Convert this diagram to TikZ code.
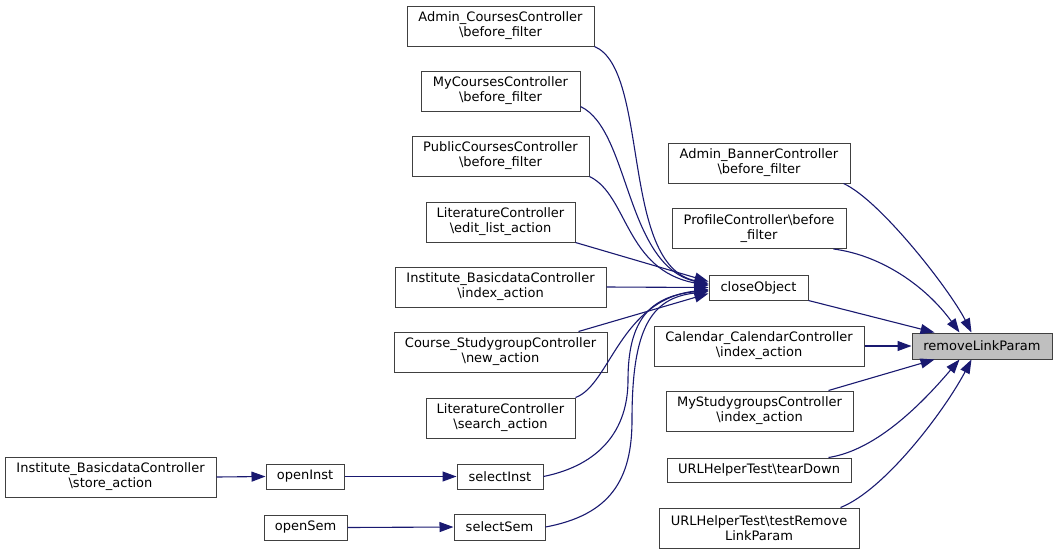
\documentclass[tikz,border=0pt]{standalone}
\usepackage{fontspec}
\setmainfont{DejaVu Sans}
\usetikzlibrary{arrows.meta}
\definecolor{edgeblue}{HTML}{191970}
\definecolor{hlgray}{HTML}{BFBFBF}

\begin{document}
\begin{tikzpicture}[x=1pt,y=-1pt,
    func/.style={draw=black!75,line width=1pt,fill=white,align=center,inner sep=0pt,
      font=\fontsize{13}{15}\selectfont,minimum height=40pt},
    one/.style={func,minimum height=25pt},
    call/.style={edgeblue,line width=1.1pt,-{Triangle[length=14pt,width=10pt]}}]
    \useasboundingbox (0,0) rectangle (1057,555);

    % callers of the callers
    \node[func,minimum width=211pt] (storeAct) at (110.5,477) {Institute\_BasicdataController\\\textbackslash store\_action};
    \node[one,minimum width=78pt] (openInst) at (305,476.5) {openInst};
    \node[one,minimum width=83pt] (openSem) at (305.5,527.5) {openSem};

    % callers of closeObject
    \node[func,minimum width=187pt] (adminCourses) at (500.5,26) {Admin\_CoursesController\\\textbackslash before\_filter};
    \node[func,minimum width=159pt] (myCourses) at (500.5,91) {MyCoursesController\\\textbackslash before\_filter};
    \node[func,minimum width=177pt] (publicCourses) at (500.5,156) {PublicCoursesController\\\textbackslash before\_filter};
    \node[func,minimum width=149pt] (litEdit) at (500.5,222) {LiteratureController\\\textbackslash edit\_list\_action};
    \node[func,minimum width=211pt] (instIndex) at (500.5,287) {Institute\_BasicdataController\\\textbackslash index\_action};
    \node[func,minimum width=213pt] (courseStudy) at (500.5,352) {Course\_StudygroupController\\\textbackslash new\_action};
    \node[func,minimum width=149pt] (litSearch) at (500.5,418) {LiteratureController\\\textbackslash search\_action};
    \node[one,minimum width=86pt] (selectInst) at (500,476.5) {selectInst};
    \node[one,minimum width=91pt,minimum height=26pt] (selectSem) at (499.5,527) {selectSem};

    % callers of removeLinkParam
    \node[one,minimum width=99pt] (closeObject) at (758.5,287.5) {closeObject};
    \node[func,minimum width=182pt] (adminBanner) at (759,163) {Admin\_BannerController\\\textbackslash before\_filter};
    \node[func,minimum width=174pt] (profile) at (759,228.5) {ProfileController\textbackslash before\\\_filter};
    \node[func,minimum width=210pt] (calendar) at (759,346) {Calendar\_CalendarController\\\textbackslash index\_action};
    \node[func,minimum width=187pt] (myStudy) at (759.5,411) {MyStudygroupsController\\\textbackslash index\_action};
    \node[one,minimum width=184pt,minimum height=24pt] (tearDown) at (759,470) {URLHelperTest\textbackslash tearDown};
    \node[func,minimum width=200pt] (testRemove) at (759,528) {URLHelperTest\textbackslash testRemove\\LinkParam};

    \node[one,fill=hlgray,minimum width=140pt,minimum height=26pt] (removeLink) at (982,346) {removeLinkParam};

    % calls
    \draw[call] (storeAct.east) -- (openInst.west);
    \draw[call] (openInst.east) -- (selectInst.west);
    \draw[call] (openSem.east) -- (selectSem.west);

    \draw[call] (adminCourses.south east) .. controls (650,70) and (620,265) .. ([yshift=4pt]closeObject.west);
    \draw[call] ([yshift=5pt]myCourses.south east) .. controls (630,130) and (625,265) .. ([yshift=3pt]closeObject.west);
    \draw[call] (publicCourses.south east) .. controls (628,195) and (625,270) .. ([yshift=2pt]closeObject.west);
    \draw[call] (litEdit.south east) -- ([yshift=6pt]closeObject.west);
    \draw[call] (instIndex.east) -- (closeObject.west);
    \draw[call] ([xshift=-29pt]courseStudy.north east) -- ([yshift=-6pt]closeObject.west);
    \draw[call] (litSearch.north east) .. controls (610,385) and (620,300) .. ([yshift=-2pt]closeObject.west);
    \draw[call] (selectInst.east) .. controls (600,465) and (628,430) .. (628,380) .. controls (628,320) and (650,296) .. ([yshift=-3pt]closeObject.west);
    \draw[call] (selectSem.east) .. controls (610,515) and (632,480) .. (632,420) .. controls (632,330) and (650,298) .. ([yshift=-4pt]closeObject.west);

    \draw[call] ([xshift=-7pt]adminBanner.south east) .. controls (880,200) and (950,290) .. ([xshift=60pt]removeLink.north west);
    \draw[call] ([xshift=-13pt]profile.south east) .. controls (880,255) and (925,285) .. ([xshift=48pt]removeLink.north west);
    \draw[call] (closeObject.south east) -- ([xshift=23pt]removeLink.north west);
    \draw[call] (calendar.east) -- (removeLink.west);
    \draw[call] ([xshift=-25pt]myStudy.north east) -- ([xshift=23pt]removeLink.south west);
    \draw[call] ([xshift=-23pt]tearDown.north east) .. controls (878,450) and (925,400) .. ([xshift=48pt]removeLink.south west);
    \draw[call] ([xshift=-19pt]testRemove.north east) .. controls (885,490) and (945,410) .. ([xshift=60pt]removeLink.south west);
\end{tikzpicture}
\end{document}
